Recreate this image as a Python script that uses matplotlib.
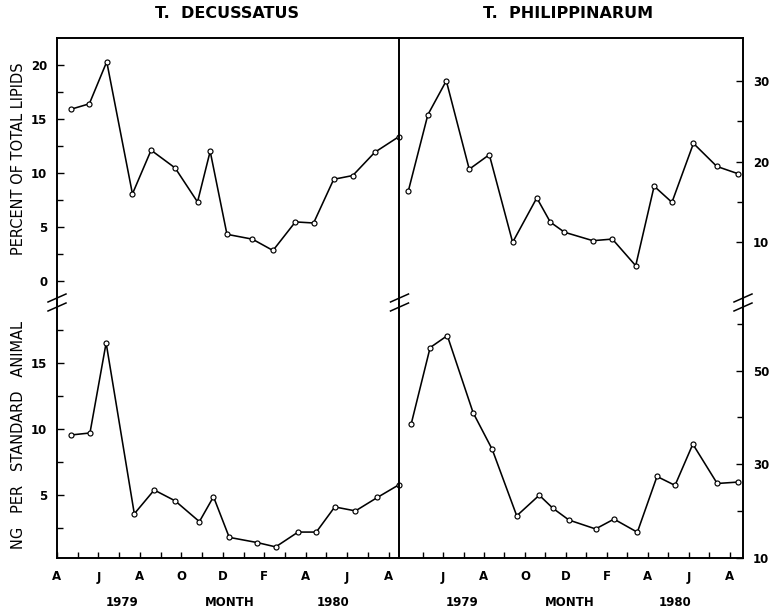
import matplotlib
matplotlib.use('Agg')
import matplotlib.pyplot as plt
import matplotlib.ticker as ticker
from matplotlib.lines import Line2D

# months counted from 1 April 1979
month_letters = ['A', 'J', 'A', 'O', 'D', 'F', 'A', 'J', 'A']
month_pos = [0, 2, 4, 6, 8, 10, 12, 14, 16]

# T. decussatus
dec_pct_x = [0.68, 1.56, 2.40, 3.64, 4.54, 5.70, 6.78, 7.39, 8.20, 9.43, 10.42,
             11.50, 12.38, 13.35, 14.27, 15.33, 16.49]
dec_pct = [15.9, 16.4, 20.3, 8.05, 12.1, 10.45, 7.3, 12.0, 4.3, 3.85, 2.8,
           5.45, 5.35, 9.4, 9.75, 11.9, 13.35]
dec_ng_x = [0.68, 1.59, 2.37, 3.73, 4.69, 5.70, 6.87, 7.55, 8.31, 9.65, 10.55,
            11.63, 12.51, 13.40, 14.40, 15.46, 16.49]
dec_ng = [9.54, 9.69, 16.5, 3.58, 5.38, 4.56, 2.99, 4.87, 1.8, 1.41, 1.08,
          2.2, 2.2, 4.1, 3.8, 4.82, 5.77]

# T. philippinarum
phi_pct_x = [0.31, 1.26, 2.16, 3.28, 4.26, 5.40, 6.58, 7.24, 7.93, 9.32, 10.27,
             11.41, 12.31, 13.18, 14.23, 15.37, 16.40]
phi_pct = [16.4, 25.8, 30.0, 19.05, 20.85, 10.0, 15.5, 12.5, 11.25, 10.2, 10.4,
           7.1, 16.95, 14.95, 22.25, 19.4, 18.5]
phi_ng_x = [0.44, 1.37, 2.21, 3.47, 4.40, 5.60, 6.70, 7.37, 8.15, 9.45, 10.35,
            11.49, 12.45, 13.33, 14.20, 15.39, 16.40]
phi_ng = [38.5, 54.9, 57.45, 41.0, 33.2, 19.0, 23.4, 20.6, 18.1, 16.2, 18.3,
          15.5, 27.4, 25.5, 34.3, 25.9, 26.2]

W, H = 775, 611
fig = plt.figure(figsize=(W / 100, H / 100), dpi=100)


def box(x0, y0, x1, y1):
    return [x0 / W, 1 - y1 / H, (x1 - x0) / W, (y1 - y0) / H]


ax_tl = fig.add_axes(box(57, 38, 399, 304))
ax_bl = fig.add_axes(box(57, 304, 399, 558))
ax_tr = fig.add_axes(box(399, 38, 743, 304))
ax_br = fig.add_axes(box(399, 304, 743, 558))

line_kw = dict(color='black', lw=1.15, marker='o', ms=3.6, mfc='white',
               mec='black', mew=0.85, clip_on=False, zorder=3)
ax_tl.plot(dec_pct_x, dec_pct, **line_kw)
ax_bl.plot(dec_ng_x, dec_ng, **line_kw)
ax_tr.plot(phi_pct_x, phi_pct, **line_kw)
ax_br.plot(phi_ng_x, phi_ng, **line_kw)

ax_tl.set_ylim(-2.16, 22.5)
ax_bl.set_ylim(0.24, 19.44)
ax_tr.set_ylim(2.36, 35.3)
ax_br.set_ylim(10, 64.2)

for ax in (ax_tl, ax_bl):
    ax.set_xlim(0, 16.5)
for ax in (ax_tr, ax_br):
    ax.set_xlim(-0.15, 16.65)

tick_font = dict(fontsize=8.5, fontweight='bold')

for ax in (ax_tl, ax_bl, ax_tr, ax_br):
    for s in ax.spines.values():
        s.set_linewidth(1.4)
    ax.tick_params(which='both', direction='in', width=1.0)
    ax.tick_params(which='major', length=5)
    ax.tick_params(which='minor', length=4)
    ax.patch.set_visible(False)

for ax in (ax_tl, ax_tr):
    ax.spines['bottom'].set_visible(False)
    ax.set_xticks([])
for ax in (ax_bl, ax_br):
    ax.spines['top'].set_visible(False)
for ax in (ax_tl, ax_bl):
    ax.spines['right'].set_visible(False)

# left axes
ax_tl.yaxis.set_major_locator(ticker.FixedLocator([0, 5, 10, 15, 20]))
ax_tl.yaxis.set_minor_locator(ticker.FixedLocator([2.5, 7.5, 12.5, 17.5]))
ax_bl.yaxis.set_major_locator(ticker.FixedLocator([5, 10, 15]))
ax_bl.yaxis.set_minor_locator(ticker.FixedLocator([2.5, 7.5, 12.5, 17.5]))
for ax in (ax_tl, ax_bl):
    ax.tick_params(axis='y', which='both', left=True, right=False, pad=7)
    ax.set_yticklabels([str(int(v)) for v in ax.get_yticks()], **tick_font)

# right axes
ax_tr.yaxis.set_major_locator(ticker.FixedLocator([10, 20, 30]))
ax_tr.yaxis.set_minor_locator(ticker.FixedLocator([15, 25]))
ax_br.yaxis.set_major_locator(ticker.FixedLocator([10, 30, 50]))
ax_br.yaxis.set_minor_locator(ticker.FixedLocator([20, 40, 60]))
for ax in (ax_tr, ax_br):
    ax.yaxis.tick_right()
    ax.tick_params(axis='y', which='both', left=False, right=True, pad=7)
    ax.set_yticklabels([str(int(v)) for v in ax.get_yticks()], **tick_font)

# month axis
ax_bl.xaxis.set_major_locator(ticker.FixedLocator(month_pos))
ax_bl.xaxis.set_minor_locator(ticker.FixedLocator([m + 1 for m in month_pos[:-1]]))
ax_bl.set_xticklabels(month_letters, **tick_font)
ax_br.xaxis.set_major_locator(ticker.FixedLocator(month_pos[1:]))
ax_br.xaxis.set_minor_locator(ticker.FixedLocator([m + 1 for m in month_pos[:-1]]))
ax_br.set_xticklabels(month_letters[1:], **tick_font)
for ax in (ax_bl, ax_br):
    ax.tick_params(axis='x', which='major', length=4, pad=9)
    ax.tick_params(axis='x', which='minor', length=4)

# titles and labels
title_font = dict(fontsize=11.5, fontweight='bold', ha='center', va='center')
fig.text(227 / W, 1 - 13 / H, 'T.  DECUSSATUS', **title_font)
fig.text(568 / W, 1 - 13 / H, 'T.  PHILIPPINARUM', **title_font)

ylab_font = dict(fontsize=10.5, rotation=90, ha='center', va='center')
fig.text(19 / W, 1 - 159 / H, 'PERCENT OF TOTAL LIPIDS', **ylab_font)
fig.text(19 / W, 1 - 435 / H, 'NG   PER   STANDARD   ANIMAL', **ylab_font)

xlab_font = dict(fontsize=8.5, fontweight='bold', ha='center', va='center')
for x, s in [(122, '1979'), (230, 'MONTH'), (333, '1980'),
             (462, '1979'), (570, 'MONTH'), (675, '1980')]:
    fig.text(x / W, 1 - 602 / H, s, **xlab_font)

# axis break marks
for xs in (57, 399.5, 743):
    for yc in (298, 307):
        fig.add_artist(Line2D([(xs - 9) / W, (xs + 9) / W],
                              [1 - (yc + 4) / H, 1 - (yc - 4) / H],
                              color='black', lw=1.1, transform=fig.transFigure))

fig.savefig('out.png', dpi=100)
